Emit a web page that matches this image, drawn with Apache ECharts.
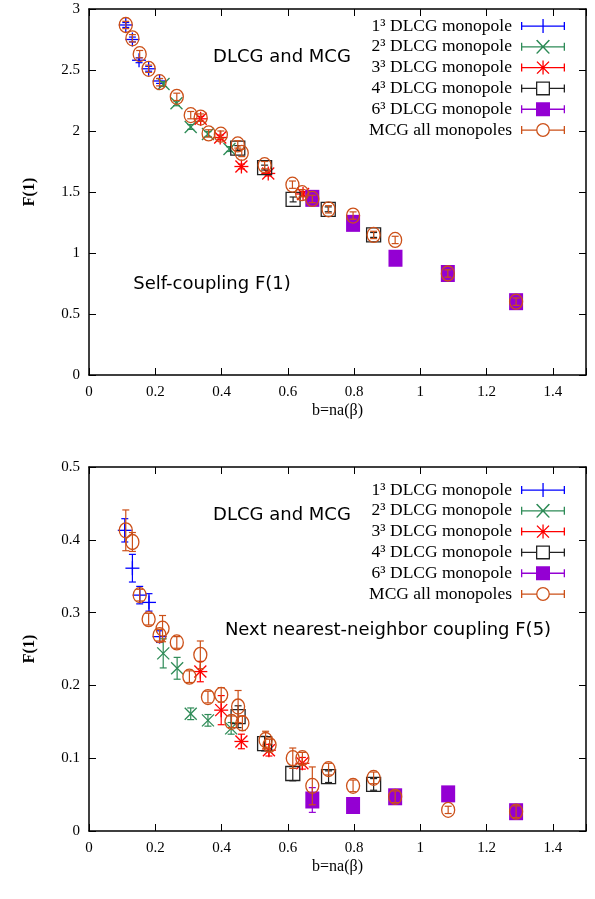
<!DOCTYPE html>
<html><head><meta charset="utf-8">
<script src="https://cdn.jsdelivr.net/npm/echarts@6/dist/echarts.min.js"></script>
<style>html,body{margin:0;padding:0;background:#fff}#c{width:595px;height:899px}</style>
</head><body><div id="c"></div>
<script>
// Series names (legend)
const names = ['1³ DLCG monopole','2³ DLCG monopole','3³ DLCG monopole','4³ DLCG monopole','6³ DLCG monopole','MCG all monopoles'];
const colors = ['#0000ff','#2e8b57','#ff0000','#222222','#9400d3','#cc5018'];
const shapes = ['plus','cross','star','square','fsquare','circle'];

// ---- Top panel: self-coupling F(1)  [b, F, err]
const top1 = [[0.111,2.869,0.02],[0.131,2.75,0.02],[0.151,2.58,0.02],[0.180,2.51,0.02],[0.213,2.41,0.02]];
const top2 = [[0.225,2.385,0.02],[0.264,2.227,0.02],[0.307,2.033,0.02],[0.359,1.975,0.02],[0.424,1.852,0.02]];
const top3 = [[0.337,2.10,0.02],[0.396,1.947,0.02],[0.460,1.709,0.02],[0.541,1.652,0.02],[0.646,1.484,0.02]];
const top4 = [[0.449,1.86,0.02],[0.530,1.70,0.02],[0.616,1.439,0.02],[0.722,1.358,0.02],[0.859,1.148,0.02]];
const top6 = [[0.674,1.448,0.02],[0.797,1.243,0.02],[0.925,0.957,0.02],[1.083,0.832,0.02],[1.289,0.601,0.02]];
const topM = [[0.111,2.869,0.03],[0.131,2.76,0.03],[0.153,2.63,0.03],[0.180,2.51,0.03],[0.213,2.40,0.03],
  [0.265,2.28,0.03],[0.307,2.13,0.03],[0.337,2.11,0.03],[0.361,1.98,0.03],[0.398,1.97,0.03],
  [0.449,1.89,0.03],[0.461,1.82,0.03],[0.530,1.72,0.03],[0.614,1.56,0.03],[0.643,1.49,0.03],
  [0.674,1.443,0.03],[0.723,1.358,0.03],[0.797,1.307,0.03],[0.859,1.148,0.03],[0.924,1.107,0.03],
  [1.083,0.832,0.03],[1.289,0.601,0.03]];

// ---- Bottom panel: next nearest-neighbor coupling F(5)  [b, F, err]
const bot1 = [[0.108,0.413,0.016],[0.131,0.361,0.019],[0.153,0.324,0.012],[0.181,0.314,0.012],[0.213,0.267,0.008]];
const bot2 = [[0.224,0.244,0.02],[0.266,0.2235,0.015],[0.307,0.161,0.008],[0.359,0.152,0.008],[0.429,0.141,0.008]];
const bot3 = [[0.336,0.219,0.014],[0.399,0.166,0.02],[0.460,0.123,0.01],[0.543,0.111,0.008],[0.644,0.093,0.008]];
const bot4 = [[0.450,0.157,0.015],[0.530,0.120,0.01],[0.615,0.079,0.01],[0.723,0.0746,0.008],[0.859,0.064,0.008]];
const bot6 = [[0.674,0.0426,0.017],[0.797,0.035,0.003],[0.924,0.047,0.005],[1.084,0.051,0.003],[1.289,0.0265,0.005]];
const botM = [[0.111,0.413,0.028],[0.131,0.397,0.013],[0.153,0.324,0.008],[0.180,0.291,0.008],[0.213,0.269,0.008],
  [0.222,0.278,0.018],[0.265,0.259,0.008],[0.303,0.212,0.008],[0.336,0.242,0.019],[0.359,0.184,0.008],
  [0.399,0.187,0.01],[0.430,0.150,0.008],[0.450,0.171,0.022],[0.463,0.148,0.01],[0.533,0.125,0.012],
  [0.545,0.118,0.008],[0.615,0.100,0.014],[0.644,0.100,0.008],[0.674,0.062,0.026],[0.723,0.085,0.008],
  [0.797,0.062,0.008],[0.859,0.073,0.008],[0.924,0.047,0.008],[1.084,0.029,0.005],[1.289,0.0265,0.008]];

const topSets = [top1,top2,top3,top4,top6,topM];
const botSets = [bot1,bot2,bot3,bot4,bot6,botM];

function makeRender(shape, color){
  return function(params, api){
    const x = api.value(0), y = api.value(1), e = api.value(2);
    const p = api.coord([x,y]);
    const t = api.coord([x,y+e]), b = api.coord([x,y-e]);
    const ls = {stroke: color, lineWidth: 1.2, fill: null};
    const ch = [];
    const cw = 3.5;
    ch.push({type:'line', shape:{x1:p[0],y1:t[1],x2:p[0],y2:b[1]}, style:ls});
    ch.push({type:'line', shape:{x1:p[0]-cw,y1:t[1],x2:p[0]+cw,y2:t[1]}, style:ls});
    ch.push({type:'line', shape:{x1:p[0]-cw,y1:b[1],x2:p[0]+cw,y2:b[1]}, style:ls});
    const h = 7, d = 6;
    const lw = {stroke: color, lineWidth: 1.3, fill: null};
    if (shape==='plus' || shape==='star'){
      ch.push({type:'line', shape:{x1:p[0]-h,y1:p[1],x2:p[0]+h,y2:p[1]}, style:lw});
      ch.push({type:'line', shape:{x1:p[0],y1:p[1]-h,x2:p[0],y2:p[1]+h}, style:lw});
    }
    if (shape==='cross' || shape==='star'){
      ch.push({type:'line', shape:{x1:p[0]-d,y1:p[1]-d,x2:p[0]+d,y2:p[1]+d}, style:lw});
      ch.push({type:'line', shape:{x1:p[0]-d,y1:p[1]+d,x2:p[0]+d,y2:p[1]-d}, style:lw});
    }
    if (shape==='square'){
      ch.push({type:'rect', shape:{x:p[0]-7,y:p[1]-7,width:14,height:14}, style:lw});
    }
    if (shape==='fsquare'){
      ch.push({type:'rect', shape:{x:p[0]-7,y:p[1]-8.5,width:14,height:17}, style:{fill:color, stroke:null}, z2:-1});
    }
    if (shape==='circle'){
      ch.push({type:'ellipse', shape:{cx:p[0],cy:p[1],rx:6.5,ry:7.5}, style:lw});
    }
    return {type:'group', children: ch};
  };
}

// legend icons (bbox 0..44 x 1..15)
const R = (x,y,w,h)=>`M${x},${y}L${x+w},${y}L${x+w},${y+h}L${x},${y+h}Z`;
const Rrev = (x,y,w,h)=>`M${x},${y}L${x},${y+h}L${x+w},${y+h}L${x+w},${y}Z`;
const capsL = R(0,4,1.3,8)+R(42.7,4,1.3,8);
const icons = [
  'path://'+capsL+R(0,7.4,44,1.3)+R(21.4,1,1.3,14),
  'path://'+capsL+R(0,7.4,44,1.3)+'M15,1.6L16.4,1L29,14.4L27.6,15ZM27.6,1L29,1.6L16.4,15L15,14.4Z',
  'path://'+capsL+R(0,7.4,44,1.3)+R(21.4,1,1.3,14)+'M15.5,2.4L16.5,1.6L28.5,13.6L27.5,14.4ZM27.5,1.6L28.5,2.4L16.5,14.4L15.5,13.6Z',
  'path://'+capsL+R(0,7.4,15,1.3)+R(29,7.4,15,1.3)+R(15,1,14,14)+Rrev(16.3,2.3,11.4,11.4),
  'path://'+capsL+R(0,7.4,44,1.3)+R(15,1,14,14),
  'path://'+capsL+R(0,7.4,15.2,1.3)+R(28.8,7.4,15.2,1.3)+
    'M22,1A6.9,7 0 1 1 22,15A6.9,7 0 1 1 22,1Z M22,2.3A5.6,5.7 0 1 0 22,13.7A5.6,5.7 0 1 0 22,2.3Z'
];

const serif = 'Liberation Serif';

function axesFor(gi, ymax, yint){
  const xa = [0,1].map(k=>({
    type:'value', gridIndex:gi, min:0, max:1.5, interval:0.2, position: k? 'top':'bottom',
    axisLine:{show:true,onZero:false,lineStyle:{color:'#000',width:1.5}},
    axisTick:{show:true,inside:true,length:7,lineStyle:{color:'#000',width:1}},
    axisLabel:{show:!k, color:'#000', fontFamily:serif, fontSize:15, margin:10,
      formatter:v=> (v>1.41?'':String(+v.toFixed(1)))},
    splitLine:{show:false},
    name: k? '' : 'b=na(β)', nameLocation:'middle', nameGap:28,
    nameTextStyle:{color:'#000', fontFamily:serif, fontSize:16}
  }));
  const ya = [0,1].map(k=>({
    type:'value', gridIndex:gi, min:0, max:ymax, interval:yint, position: k? 'right':'left',
    axisLine:{show:true,onZero:false,lineStyle:{color:'#000',width:1.5}},
    axisTick:{show:true,inside:true,length:7,lineStyle:{color:'#000',width:1}},
    axisLabel:{show:!k, color:'#000', fontFamily:serif, fontSize:15, margin:9,
      formatter:v=>String(+v.toFixed(2))},
    splitLine:{show:false},
    name: k? '' : 'F(1)', nameLocation:'middle', nameGap:51,
    nameTextStyle:{color:'#000', fontFamily:serif, fontSize:16, fontWeight:'bold'}
  }));
  return {xa, ya};
}
const A0 = axesFor(0, 3, 0.5), A1 = axesFor(1, 0.5, 0.1);

const series = [];
[topSets, botSets].forEach((sets, gi)=>{
  sets.forEach((data, i)=>{
    series.push({
      type:'custom', name:names[i], xAxisIndex: gi*2, yAxisIndex: gi*2,
      data: data, encode:{x:0,y:1}, clip:true, z: 2+i,
      itemStyle:{color:colors[i]},
      renderItem: makeRender(shapes[i], colors[i])
    });
  });
});

function legendAt(top){
  return {
    orient:'vertical', right:30, top: top, align:'right', padding:0,
    itemWidth:44, itemHeight:14, itemGap:2.8,
    data: names.map((n,i)=>({name:n, icon:icons[i]})),
    textStyle:{color:'#000', fontFamily:serif, fontSize:17.5, lineHeight:14, padding:[0,4,0,0]},
    selectedMode:false
  };
}

const option = {
  animation:false,
  backgroundColor:'#fff',
  grid:[
    {left:89, top:9, width:497, height:366},
    {left:89, top:467, width:497, height:364}
  ],
  xAxis:[...A0.xa, ...A1.xa],
  yAxis:[...A0.ya, ...A1.ya],
  legend:[legendAt(17), legendAt(481)],
  series: series,
  graphic:[
    {type:'text', style:{text:'DLCG and MCG', font:'18px "DejaVu Sans"', fill:'#000', x:282, y:57, align:'center', verticalAlign:'middle'}},
    {type:'text', style:{text:'Self-coupling F(1)', font:'18px "DejaVu Sans"', fill:'#000', x:212, y:284, align:'center', verticalAlign:'middle'}},
    {type:'text', style:{text:'DLCG and MCG', font:'18px "DejaVu Sans"', fill:'#000', x:282, y:515, align:'center', verticalAlign:'middle'}},
    {type:'text', style:{text:'Next nearest-neighbor coupling F(5)', font:'18px "DejaVu Sans"', fill:'#000', x:388, y:630, align:'center', verticalAlign:'middle'}}
  ]
};
const chart = echarts.init(document.getElementById('c'));
chart.setOption(option);
</script></body></html>
